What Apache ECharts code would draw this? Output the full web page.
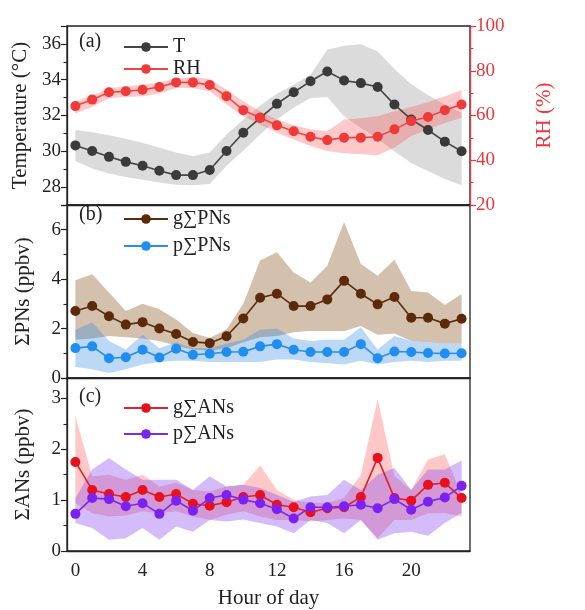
<!DOCTYPE html>
<html>
<head>
<meta charset="utf-8">
<script src="https://cdn.jsdelivr.net/npm/echarts@6/dist/echarts.min.js"></script>
<style>
html, body { margin: 0; padding: 0; background: #fff; }
#chart { width: 585px; height: 610px; }
</style>
</head>
<body>
<div id="chart"></div>
<script>
// hour of day
var hours = ['0','1','2','3','4','5','6','7','8','9','10','11','12','13','14','15','16','17','18','19','20','21','22','23'];

// (a) temperature and RH, mean and band edges
var tMean = [30.33,30.02,29.69,29.41,29.19,28.91,28.67,28.67,28.96,30.02,31.04,31.87,32.65,33.30,33.91,34.46,33.96,33.81,33.59,32.61,31.78,31.19,30.54,30.00];
var tUp   = [31.19,31.07,30.89,30.70,30.48,30.20,29.93,29.74,29.93,30.94,31.78,32.56,33.22,33.72,34.28,35.67,35.89,35.98,35.57,34.60,33.75,33.15,32.60,32.15];
var tLow  = [29.46,29.04,28.76,28.57,28.41,28.26,28.13,28.11,28.17,29.19,30.05,30.94,31.78,32.43,32.98,33.04,31.96,31.30,30.70,30.00,29.35,28.90,28.45,28.10];
var rhMean = [64.2,67.1,70.4,70.8,71.5,72.7,74.8,74.8,73.6,68.6,62.4,59.0,55.6,53.0,50.5,49.0,50.1,50.1,50.5,53.8,57.5,59.3,62.4,64.9];
var rhUp   = [66.4,68.9,72.3,73.0,73.8,74.8,76.7,77.2,76.3,71.5,66.4,61.9,58.2,55.6,53.8,53.0,58.2,58.8,59.7,61.9,63.8,65.9,68.6,71.3];
var rhLow  = [60.9,63.8,67.8,68.3,68.6,69.8,72.3,72.3,70.8,64.9,59.7,56.0,52.3,49.3,46.4,44.1,43.1,42.7,42.2,45.6,50.8,53.8,56.7,59.0];

// (b) PNs, gas and particle
var gPN    = [2.71,2.91,2.50,2.16,2.26,2.00,1.78,1.46,1.41,1.69,2.41,3.25,3.41,2.91,2.91,3.18,3.93,3.41,2.98,3.28,2.44,2.44,2.20,2.40];
var gPNUp  = [3.96,4.20,3.46,2.71,3.00,2.78,2.37,1.82,1.62,1.96,3.00,4.75,5.09,4.27,3.86,4.54,6.31,4.61,4.14,4.78,3.52,3.46,2.95,3.40];
var gPNLow = [1.55,1.60,1.70,1.65,1.60,1.50,1.30,1.15,1.10,1.20,1.45,1.65,1.70,1.85,1.90,1.90,1.90,2.10,1.75,1.80,1.50,1.45,1.40,1.40];
var pPN    = [1.21,1.28,0.80,0.84,1.14,0.83,1.18,0.94,0.98,1.05,1.06,1.28,1.37,1.14,1.05,1.05,1.05,1.37,0.80,1.07,1.05,1.01,0.99,1.00];
var pPNUp  = [1.95,2.25,1.50,1.15,1.75,1.20,1.45,1.20,1.20,1.40,1.55,1.95,2.00,1.60,1.50,1.55,1.55,2.05,1.15,1.70,1.50,1.45,1.40,1.40];
var pPNLow = [0.45,0.35,0.20,0.35,0.55,0.65,0.70,0.70,0.65,0.65,0.65,0.65,0.75,0.75,0.65,0.60,0.55,0.70,0.55,0.65,0.70,0.65,0.70,0.70];

// (c) ANs, gas and particle
var gAN    = [1.75,1.20,1.12,1.06,1.20,1.06,1.12,0.93,0.89,0.96,1.06,1.10,0.91,0.86,0.76,0.84,0.86,1.06,1.83,1.04,0.99,1.30,1.34,1.04];
var gANUp  = [2.65,1.47,1.50,1.40,1.50,1.27,1.34,1.20,1.17,1.27,1.30,1.68,1.20,1.00,0.95,0.95,1.04,1.50,2.98,1.47,1.20,1.80,1.90,1.10];
var gANLow = [0.94,0.74,0.68,0.70,0.78,0.74,0.78,0.68,0.61,0.71,0.78,0.68,0.61,0.61,0.58,0.61,0.64,0.61,0.25,0.61,0.61,0.74,0.74,0.68];
var pAN    = [0.73,1.04,1.02,0.88,0.94,0.73,0.99,0.79,1.04,1.10,1.01,0.94,0.82,0.64,0.86,0.86,0.88,0.91,0.84,1.02,0.81,0.97,1.05,1.28];
var pANUp  = [1.04,1.60,1.83,1.60,1.40,1.40,1.40,1.20,1.47,1.27,1.30,1.24,1.10,0.97,1.07,1.10,1.40,1.20,1.50,1.63,1.20,1.60,1.60,1.78];
var pANLow = [0.55,0.45,0.22,0.25,0.45,0.22,0.48,0.38,0.61,0.58,0.62,0.55,0.48,0.35,0.61,0.55,0.35,0.61,0.22,0.35,0.38,0.30,0.55,0.75];

var FONT = 'Liberation Serif';
var INK = '#222';
var RED = '#e8383d';

var chart = echarts.init(document.getElementById('chart'));

// shaded band = invisible lower line + stacked (upper - lower) area
function band(key, low, up, color, xi, yi) {
	var diff = up.map(function (v, i) { return +(v - low[i]).toFixed(3); });
	return [{
		name: key + '_lo', type: 'line', xAxisIndex: xi, yAxisIndex: yi, stack: key,
		data: low, symbol: 'none', silent: true, lineStyle: { opacity: 0 }, z: 1
	}, {
		name: key + '_hi', type: 'line', xAxisIndex: xi, yAxisIndex: yi, stack: key,
		data: diff, symbol: 'none', silent: true, lineStyle: { opacity: 0 },
		areaStyle: { color: color, opacity: 1 }, z: 1
	}];
}

function meanLine(name, data, lineColor, dotColor, xi, yi) {
	return {
		name: name, type: 'line', xAxisIndex: xi, yAxisIndex: yi, data: data,
		symbol: 'circle', symbolSize: 10,
		lineStyle: { color: lineColor, width: 1.6 },
		itemStyle: { color: dotColor },
		z: 5
	};
}

function xAxis(gi, showLabel) {
	return {
		type: 'category', gridIndex: gi, data: hours, boundaryGap: true,
		axisLine: { lineStyle: { color: INK, width: 1.3 } },
		axisTick: { alignWithLabel: true, interval: 1, length: 5, lineStyle: { color: INK, width: 1.2 } },
		axisLabel: { show: showLabel, interval: 3, fontFamily: FONT, fontSize: 19, color: INK, margin: 11 },
		name: showLabel ? 'Hour of day' : '', nameLocation: 'middle', nameGap: 37,
		nameTextStyle: { fontFamily: FONT, fontSize: 21, color: INK }
	};
}

function yAxis(gi, opt) {
	var base = {
		type: 'value', gridIndex: gi, position: 'left',
		axisLine: { show: true, lineStyle: { color: INK, width: 1.3 } },
		axisTick: { show: true, length: 6, lineStyle: { color: INK, width: 1.2 } },
		minorTick: { show: true, splitNumber: 2, length: 3.5, lineStyle: { color: INK, width: 1.1 } },
		splitLine: { show: false },
		axisLabel: { fontFamily: FONT, fontSize: 19, color: INK, margin: 6, showMaxLabel: false },
		nameLocation: 'middle', nameRotate: 90,
		nameTextStyle: { fontFamily: FONT, fontSize: 21, color: INK }
	};
	return Object.assign(base, opt);
}

function legend(names, top, gap) {
	return {
		data: names, orient: 'vertical', left: 118, top: top, itemWidth: 44, itemHeight: 12, itemGap: gap,
		textStyle: { fontFamily: FONT, fontSize: 20, color: INK }
	};
}

var option = {
	animation: false,
	backgroundColor: '#fff',
	grid: [
		{ left: 67, right: 115, top: 26, height: 179, show: true, borderColor: INK, borderWidth: 1.3 },
		{ left: 67, right: 115, top: 205, height: 173, show: true, borderColor: INK, borderWidth: 1.3 },
		{ left: 67, right: 115, top: 378, height: 174, show: true, borderColor: INK, borderWidth: 1.3 }
	],
	xAxis: [xAxis(0, false), xAxis(1, false), xAxis(2, true)],
	yAxis: [
		yAxis(0, { min: 27, max: 37, splitNumber: 5, name: 'Temperature (°C)', nameGap: 36,
			axisLabel: { fontFamily: FONT, fontSize: 19, color: INK, margin: 6, showMinLabel: false, showMaxLabel: false } }),
		yAxis(0, { min: 20, max: 100, interval: 20, position: 'right', name: 'RH (%)', nameGap: 64,
			axisLine: { show: true, lineStyle: { color: RED, width: 1.3 } },
			axisTick: { show: true, length: 6, lineStyle: { color: RED, width: 1.2 } },
			minorTick: { show: true, splitNumber: 2, length: 3.5, lineStyle: { color: RED, width: 1.1 } },
			axisLabel: { fontFamily: FONT, fontSize: 19, color: RED, margin: 6 },
			nameTextStyle: { fontFamily: FONT, fontSize: 21, color: RED } }),
		yAxis(1, { min: 0, max: 7, interval: 2, name: 'ΣPNs (ppbv)', nameGap: 33 }),
		yAxis(2, { min: 0, max: 3.4, interval: 1, name: 'ΣANs (ppbv)', nameGap: 33 })
	],
	legend: [
		legend(['T', 'RH'], 32, 2),
		legend(['g∑PNs', 'p∑PNs'], 204, 7),
		legend(['g∑ANs', 'p∑ANs'], 393, 6)
	],
	graphic: [
		{ type: 'text', left: 79, top: 32, style: { text: '(a)', font: '20px "Liberation Serif"', fill: INK } },
		{ type: 'text', left: 79, top: 205, style: { text: '(b)', font: '20px "Liberation Serif"', fill: INK } },
		{ type: 'text', left: 79, top: 387, style: { text: '(c)', font: '20px "Liberation Serif"', fill: INK } }
	],
	series: [].concat(
		band('tb', tLow, tUp, 'rgba(150,150,150,0.34)', 0, 0),
		band('rhb', rhLow, rhUp, 'rgba(255,60,60,0.28)', 0, 1),
		[meanLine('T', tMean, '#454545', '#3a3a3a', 0, 0),
		 meanLine('RH', rhMean, '#f04444', '#f03a3a', 0, 1)],
		band('gpb', gPNLow, gPNUp, 'rgba(140,90,40,0.38)', 1, 2),
		band('ppb', pPNLow, pPNUp, 'rgba(30,130,230,0.30)', 1, 2),
		[meanLine('g∑PNs', gPN, '#5a2d0c', '#5c2a08', 1, 2),
		 meanLine('p∑PNs', pPN, '#2a8ee8', '#1f8ef0', 1, 2)],
		band('gab', gANLow, gANUp, 'rgba(255,70,70,0.30)', 2, 3),
		band('pab', pANLow, pANUp, 'rgba(140,80,240,0.38)', 2, 3),
		[meanLine('g∑ANs', gAN, '#e0202a', '#e8101e', 2, 3),
		 meanLine('p∑ANs', pAN, '#7a2ae8', '#7b22f0', 2, 3)]
	)
};

chart.setOption(option);
</script>
</body>
</html>
